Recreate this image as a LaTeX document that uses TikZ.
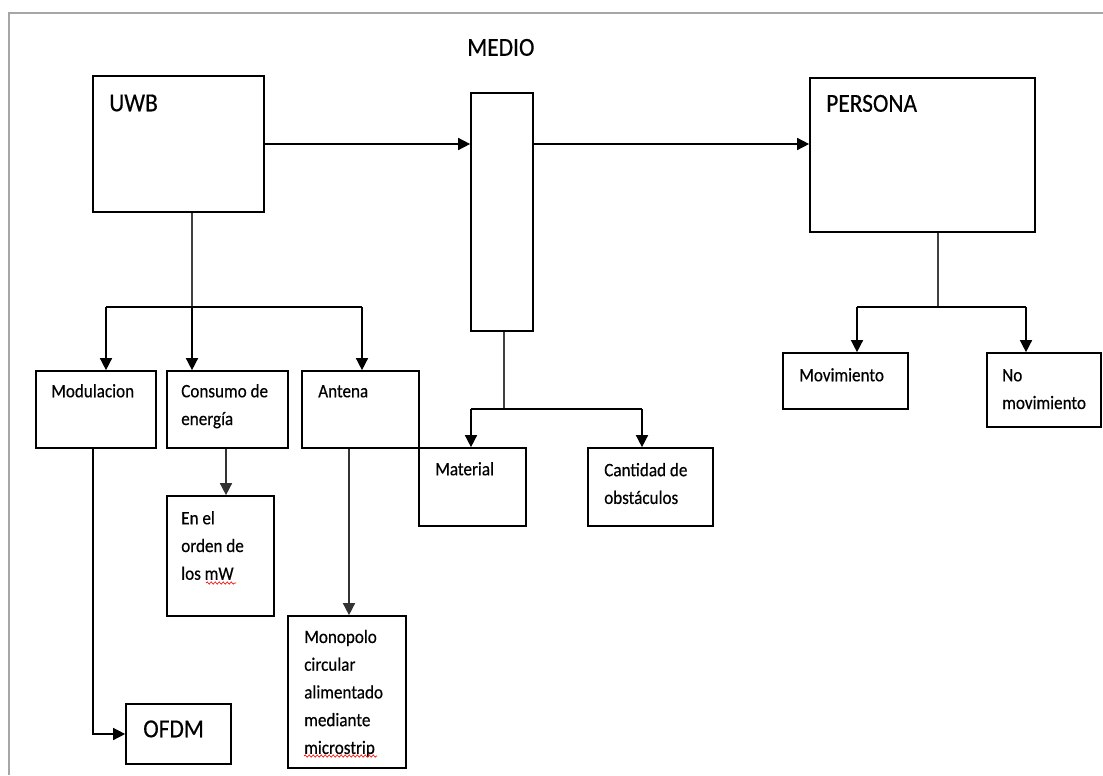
\documentclass[tikz,border=0pt]{standalone}
\usepackage{fontspec}
\setmainfont{Carlito}[FakeStretch=0.9, FakeBold=0.4]
\usetikzlibrary{arrows.meta,fit,decorations.pathmorphing}
\newcommand\lblfont{\fontsize{14.25}{20.8}\selectfont}
\newcommand\hdrfont{\fontsize{19.5}{24}\selectfont}
\begin{document}
\begin{tikzpicture}[x=0.75pt,y=-0.75pt,
  box/.style={draw=black, line width=1.25pt, inner sep=0pt},
  plain/.style={draw=black, line width=1.1pt},
  link/.style={draw=black, line width=1.1pt, -{Triangle[length=9pt,width=9pt]}},
  stem/.style={draw=black!75, line width=0.9pt},
  lbl/.style={anchor=north west, inner sep=0pt, align=left, font=\lblfont},
  hdr/.style={anchor=north west, inner sep=0pt, align=left, font=\hdrfont},
  spell/.style={draw=red, line width=0.5pt, decorate,
    decoration={snake, amplitude=0.8pt, segment length=3pt}}]
\useasboundingbox (0,0) rectangle (1103,775);
\fill[white] (0,0) rectangle (1103,775);

% page frame
\draw[gray!70, line width=1.5pt] (9,775) -- (9,13) -- (1103,13);

% boxes
\node[box, fit={(93,76) (264,212)}]    (uwb) {};
\node[box, fit={(471,93) (533,331)}]   (medio) {};
\node[box, fit={(810,78) (1035,232)}]  (persona) {};
\node[box, fit={(36,371) (156,448)}]   (modul) {};
\node[box, fit={(167,371) (288,448)}]  (consumo) {};
\node[box, fit={(302,371) (419,448)}]  (antena) {};
\node[box, fit={(419,448) (526,526)}]  (material) {};
\node[box, fit={(588,448) (713,526)}]  (cantidad) {};
\node[box, fit={(783,353) (908,409)}]  (movim) {};
\node[box, fit={(987,353) (1101,427)}] (nomov) {};
\node[box, fit={(167,496) (274,616)}]  (enel) {};
\node[box, fit={(288,616) (406,768)}]  (monopolo) {};
\node[box, fit={(126,704) (231,764)}]  (ofdm) {};

% texts
\node[hdr] (tuwb)     at (109,88.6)  {\strut UWB};
\node[hdr] (tmedio)   at (467,33.1)  {\strut MEDIO};
\node[hdr] (tpersona) at (826,89.1)  {\strut PERSONA};
\node[hdr] (tofdm)    at (143,714.6) {\strut OFDM};
\node[lbl] (tmodul)   at (51,377.6)  {\strut Modulacion};
\node[lbl] (tconsumo) at (181,377.6) {\strut Consumo de\\energía};
\node[lbl] (tantena)  at (318,377.6) {\strut Antena};
\node[lbl] (tmat)     at (435,455.6) {\strut Material};
\node[lbl] (tcant)    at (604,456.5) {\strut Cantidad de\\obstáculos};
\node[lbl] (tmovim)   at (799,361.6) {\strut Movimiento};
\node[lbl] (tnomov)   at (1002,361.6) {\strut No\\movimiento};
\node[lbl] (tenel)    at (181,504.6) {\strut En el\\orden de\\los mW};
\node[lbl] (tmono)    at (304,623.3) {\strut Monopolo\\circular\\alimentado\\mediante\\microstrip};

% spell-check marks
\draw[spell] (206,583) -- (236,583);
\draw[spell] (304,756) -- (377,756);

% main chain
\draw[link] (uwb.east) -- (uwb.east -| medio.west);
\draw[link] (medio.east |- uwb.east) -- (persona.west |- uwb.east);

% UWB branches
\coordinate (uwbfork) at (192,307);
\coordinate (modx) at (106,307);
\coordinate (antx) at (362,307);
\draw[stem] (uwb.south -| uwbfork) -- (uwbfork);
\draw[plain] (modx) -- (antx);
\draw[link] (modx) -- (modx |- modul.north);
\draw[link] (uwbfork) -- (uwbfork |- consumo.north);
\draw[link] (antx) -- (antx |- antena.north);

% MEDIO branches
\coordinate (medfork) at (504,409);
\coordinate (matx) at (471,409);
\coordinate (canx) at (642,409);
\draw[stem] (medio.south -| medfork) -- (medfork);
\draw[plain] (matx) -- (canx);
\draw[link] (matx) -- (matx |- material.north);
\draw[link] (canx) -- (canx |- cantidad.north);

% PERSONA branches
\coordinate (perfork) at (938,307);
\coordinate (movx) at (857,307);
\coordinate (nomx) at (1026,307);
\draw[stem] (persona.south -| perfork) -- (perfork);
\draw[plain] (movx) -- (nomx);
\draw[link] (movx) -- (movx |- movim.north);
\draw[link] (nomx) -- (nomx |- nomov.north);

% second level
\coordinate (antdown) at (349,448);
\coordinate (moddown) at (93,448);
\draw[link, draw=black!80] (consumo.south -| 226,0) -- (226,0 |- enel.north);
\draw[link, draw=black!80] (antena.south -| antdown) -- (antdown |- monopolo.north);
\draw[link] (modul.south -| moddown) |- (ofdm.west);
\end{tikzpicture}
\end{document}
